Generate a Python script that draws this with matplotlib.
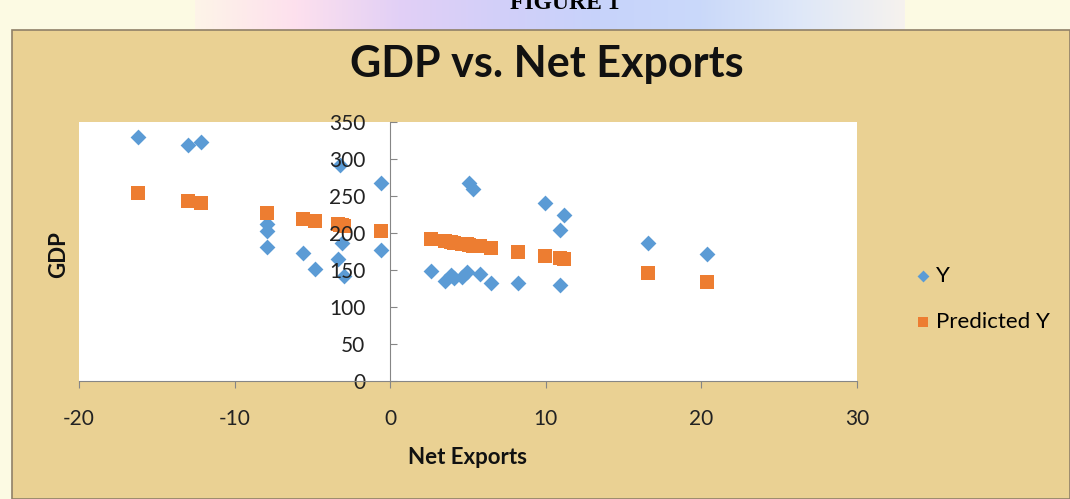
import numpy as np
import matplotlib.pyplot as plt
from matplotlib.patches import Rectangle
from matplotlib.colors import LinearSegmentedColormap

# Values
net_exports = [-16.2, -13.0, -12.15, -7.9, -7.9, -7.9, -5.6, -4.85, -3.2, -3.08,
               -3.36, -3.0, -0.6, -0.6, 2.65, 3.55, 3.9, 4.1, 4.6, 4.96,
               5.06, 5.34, 5.77, 6.51, 8.2, 9.96, 10.92, 11.2, 10.92, 16.6, 20.36]
gdp = [330, 318.5, 322.5, 211.5, 203, 181.5, 173.4, 151, 292, 187,
       165, 142, 268, 177, 148, 135.5, 143, 139, 141, 147,
       268, 259, 144, 132, 132, 240, 204, 224, 130, 187, 171]
predicted_gdp = [254, 243.5, 240, 226.5, 226.5, 226.5, 219, 216.5, 211, 210.5,
                 211.5, 210, 202.5, 202.5, 192, 189, 188, 187, 185.5, 184.5,
                 184, 183, 182, 179.5, 174.5, 169, 166, 165, 166, 146.5, 134]

plt.rcParams['font.family'] = ['Lato', 'DejaVu Sans']
plt.rcParams['axes.unicode_minus'] = False

W, H = 1070, 499
fig = plt.figure(figsize=(W / 100, H / 100), dpi=100)

# background in pixel coordinates
bg = fig.add_axes([0, 0, 1, 1])
bg.set_xlim(0, W)
bg.set_ylim(H, 0)
bg.axis('off')
bg.add_patch(Rectangle((0, 0), W, H, color='#fcfae3', zorder=0))
band = LinearSegmentedColormap.from_list(
    'band', ['#fdf4e8', '#fde0ee', '#e2d0f6', '#d2cff9', '#c7d3fb', '#cad9fa',
             '#dfe8f8', '#f6f2ee'])
bg.imshow(np.linspace(0, 1, 256).reshape(1, -1), extent=(195, 905, 30, 0),
          cmap=band, aspect='auto', zorder=1)
bg.add_patch(Rectangle((12, 30), W - 12, H - 30, facecolor='#ead193',
                       edgecolor='#8f8068', lw=1.2, zorder=2))

fig.text(565 / W, 1 - 9 / H, 'FIGURE 1', family=['Liberation Serif'],
         fontweight='bold', fontsize=17, ha='center', va='baseline')
fig.text(547 / W, 1 - 77 / H, 'GDP vs. Net Exports', fontsize=31,
         fontweight='bold', ha='center', va='baseline', color='#111111')

ax = fig.add_axes([79 / W, 1 - 381 / H, (857 - 79) / W, (381 - 122) / H])
ax.set_facecolor('white')
ax.scatter(net_exports, gdp, marker='D', s=65, color='#5b9bd5', label='Y',
           linewidths=0)
ax.scatter(net_exports, predicted_gdp, marker='s', s=88, color='#ed7d31',
           label='Predicted Y', linewidths=0)

ax.set_xlim(-20, 30)
ax.set_ylim(0, 350)
ax.set_xticks(range(-20, 31, 10))
ax.set_yticks(range(0, 351, 50))
ax.spines['left'].set_position(('data', 0))
ax.spines['top'].set_visible(False)
ax.spines['right'].set_visible(False)
for s in ('left', 'bottom'):
    ax.spines[s].set_color('#868686')
ax.tick_params(axis='x', direction='out', length=5, color='#868686',
               labelsize=15, pad=15, labelcolor='#222222')
ax.tick_params(axis='y', direction='in', length=5, color='#868686',
               labelsize=15, pad=18, labelcolor='#222222')

fig.text(468 / W, 1 - 458 / H, 'Net Exports', fontsize=16, fontweight='bold',
         ha='center', va='center', color='#111111')
fig.text(59 / W, 1 - 255 / H, 'GDP', fontsize=16, fontweight='bold',
         rotation=90, ha='center', va='center', color='#111111')

fig.legend(loc='center left', bbox_to_anchor=(892 / W, 1 - 299 / H),
           frameon=False, fontsize=16, labelspacing=1.15, handletextpad=0.1,
           handlelength=1.0, markerscale=0.75)

fig.savefig('out.png', dpi=100)
